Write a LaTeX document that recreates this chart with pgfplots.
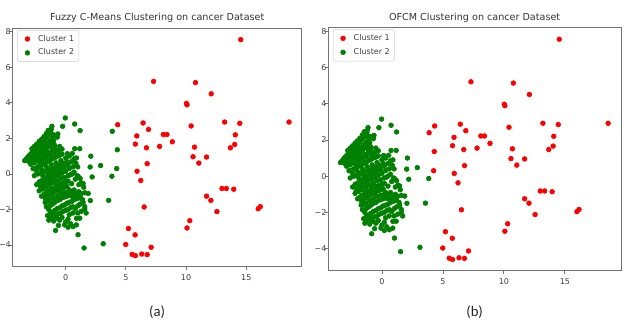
\documentclass[border=0pt]{standalone}
\usepackage{fontspec}
\setmainfont{DejaVu Sans}
\newfontfamily\carlito{Carlito}
\usepackage{pgfplots}
\usepackage{pgfplotstable}
\pgfplotsset{compat=1.18}
\definecolor{mplgreen}{HTML}{008000}
\definecolor{mplred}{HTML}{FF0000}

\pgfplotstableread{
x y
14.54 7.56
7.30 5.21
10.78 5.14
12.09 4.51
10.03 3.97
10.08 3.89
4.32 2.77
6.43 2.87
6.88 2.51
5.91 2.14
5.79 1.68
6.71 1.47
8.11 2.22
8.41 2.22
8.86 1.81
7.80 1.55
6.77 0.58
5.93 0.15
6.24 -0.37
6.52 -1.86
5.21 -3.07
5.77 -3.43
4.99 -3.97
5.52 -4.53
5.79 -4.60
6.32 -4.51
6.77 -4.54
7.10 -4.13
10.42 2.70
10.70 1.51
10.58 0.97
11.06 0.61
11.70 0.95
13.20 2.92
14.46 2.85
14.09 2.20
14.04 1.66
13.68 1.47
18.55 2.92
11.70 -1.25
12.06 -1.49
12.56 -2.12
12.98 -0.82
13.34 -0.82
13.96 -0.86
15.99 -1.96
16.16 -1.84
10.31 -2.63
10.08 -3.04
}\redtab

\pgfplotstableread{
x y
3.87 2.40
4.29 1.36
4.24 0.30
}\switchtab

\pgfplotstableread{
x y
-3.40 0.75
-3.30 0.82
-3.20 0.90
-3.10 0.98
-3.00 1.05
-2.90 1.12
-2.80 1.20
-2.70 1.27
-2.60 1.33
-2.50 1.40
-2.40 1.48
-2.30 1.55
-2.20 1.62
-2.10 1.70
-2.00 1.77
-1.90 1.85
-1.80 1.92
-1.70 2.00
-1.60 2.07
-1.50 2.15
-1.40 2.22
-1.30 2.30
-1.25 2.38
-3.10 0.72
-2.90 0.85
-2.70 0.95
-2.50 1.08
-2.30 1.20
-2.10 1.33
-1.90 1.48
-1.70 1.60
-1.50 1.74
-1.30 1.88
-1.10 2.05
-1.00 2.20
-2.80 1.42
-2.60 1.55
-2.40 1.68
-2.20 1.83
-2.00 1.95
-1.80 2.10
-1.60 2.28
-1.45 2.45
-1.20 2.52
-1.20 1.70
-1.00 1.85
-1.40 1.55
-1.60 1.40
-1.80 1.30
-2.00 1.15
-2.20 1.05
-2.40 0.95
-2.60 0.82
-2.80 0.70
-1.10 1.45
-0.90 1.60
-1.14 2.68
-0.25 2.68
-0.03 3.15
0.75 2.81
1.20 2.44
-0.70 2.07
-0.65 2.25
0.75 1.42
0.14 1.14
-0.50 1.55
-2.90 0.55
-2.60 0.62
-2.30 0.75
-2.00 0.90
-1.70 1.05
-1.40 1.20
-1.10 1.30
-0.80 1.35
-0.60 1.30
-0.30 1.40
-0.85 1.15
-1.25 1.05
-1.55 0.95
-1.85 0.80
-2.15 0.65
-2.70 0.30
-2.50 0.32
-2.30 0.40
-2.10 0.46
-1.90 0.55
-1.70 0.62
-1.50 0.70
-1.30 0.76
-1.10 0.85
-0.90 0.92
-0.70 1.00
-0.50 1.05
-0.30 1.12
-2.40 0.15
-2.00 0.25
-1.60 0.40
-1.20 0.52
-0.80 0.62
-0.40 0.75
0.00 0.90
0.30 1.00
0.50 0.70
0.70 0.85
0.85 0.60
0.20 0.55
-0.10 0.40
0.55 1.15
0.90 0.90
-2.60 -0.10
-2.30 0.00
-2.00 0.05
-1.70 0.15
-1.40 0.25
-1.10 0.30
-0.80 0.40
-0.50 0.50
-0.20 0.60
0.10 0.70
-1.90 -0.10
-1.50 0.05
-1.00 0.20
-2.40 -0.60
-2.20 -0.45
-2.00 -0.38
-1.80 -0.30
-1.60 -0.20
-1.40 -0.10
-1.20 0.00
-1.00 0.05
-0.80 0.15
-0.60 0.22
-0.40 0.30
-0.20 0.35
-2.10 -0.70
-1.90 -0.62
-1.70 -0.52
-1.50 -0.45
-1.30 -0.35
-1.10 -0.25
-0.90 -0.20
-0.70 -0.10
-0.50 0.00
-0.30 0.05
0.00 0.15
0.30 0.30
0.60 0.40
0.95 -0.10
1.03 -0.13
1.10 -0.60
1.30 -0.50
1.45 -0.54
2.20 -0.17
1.00 0.40
0.70 0.10
0.40 -0.05
-2.20 -0.95
-1.90 -0.85
-1.60 -0.75
-1.30 -0.60
-1.00 -0.50
-0.70 -0.40
-0.40 -0.25
-0.10 -0.20
0.20 -0.10
0.50 0.00
0.80 -0.30
1.20 -0.25
-2.00 -1.25
-1.80 -1.15
-1.60 -1.05
-1.40 -0.95
-1.20 -0.85
-1.00 -0.80
-0.80 -0.70
-0.60 -0.60
-0.40 -0.55
-0.20 -0.50
0.00 -0.45
-1.70 -1.35
-1.50 -1.30
-1.30 -1.20
-1.10 -1.10
-0.90 -1.00
-0.70 -0.95
-0.50 -0.85
-0.30 -0.80
-0.10 -0.75
0.10 -0.70
0.30 -0.90
0.50 -1.00
0.70 -0.90
0.90 -1.10
1.10 -1.00
1.30 -1.10
1.60 -1.06
1.50 -0.75
1.87 -1.10
2.05 -1.50
0.20 -0.40
0.50 -0.55
-1.70 -1.60
-1.50 -1.55
-1.30 -1.50
-1.00 -1.35
-0.70 -1.25
-0.40 -1.10
-0.10 -1.05
0.20 -1.00
0.50 -1.25
0.80 -1.20
1.20 -1.25
1.40 -1.45
-1.60 -1.85
-1.40 -2.00
-1.50 -2.35
-1.30 -2.25
-1.10 -2.15
-0.90 -2.05
-0.70 -1.95
-0.50 -1.90
-0.30 -1.80
-0.10 -1.75
0.10 -1.65
0.30 -1.60
0.50 -1.55
0.70 -1.45
0.90 -1.40
1.10 -1.35
-1.30 -1.80
-1.10 -1.70
-0.90 -1.60
-0.70 -1.50
-0.50 -1.45
-0.30 -1.35
-0.10 -1.30
0.10 -1.25
0.30 -1.20
-1.20 -2.50
-1.00 -2.40
-0.80 -2.30
-0.60 -2.25
-0.40 -2.20
-0.20 -2.10
0.00 -2.05
0.20 -2.00
0.40 -1.90
0.60 -1.85
0.80 -1.95
1.00 -1.80
1.20 -1.70
1.30 -2.10
1.59 -1.99
1.59 -1.84
1.00 -2.20
1.70 -2.20
1.45 -1.60
-1.40 -2.60
-1.00 -2.65
-0.70 -2.50
0.30 -2.30
0.60 -2.20
0.90 -2.50
-0.60 -2.90
0.20 -3.00
-0.84 -3.18
-0.08 -2.87
0.00 -2.70
0.61 -2.96
0.40 -2.80
0.89 -2.87
1.17 -2.49
1.03 -3.42
1.53 -4.17
3.12 -3.93
3.57 -1.49
-0.50 -2.60
-0.30 -2.45
0.20 -2.55
2.09 1.00
2.03 0.39
2.90 0.47
1.17 1.42
3.84 -0.13
}\greentab

\pgfplotsset{
  myax/.style={
    scale only axis,
    anchor=south west,
    xmin=-4.4, xmax=19.6, ymin=-5.22, ymax=8.2,
    xtick={0,5,10,15}, xticklabels={0,5,10,15},
    ytick={-4,-2,0,2,4,6,8}, yticklabels={−4,−2,0,2,4,6,8},
    tick align=outside, xtick pos=bottom, ytick pos=left,
    major tick length=2.6pt,
    axis line style={black!55, line width=0.6pt},
    tick style={black!55, line width=0.6pt},
    tick label style={font=\fontsize{6}{7}\selectfont, text=black!75},
    xticklabel style={yshift=0.5pt},
    yticklabel style={inner xsep=0.4pt, xshift=1.8pt},
    every axis title shift=0pt,
    title style={font=\fontsize{7.2}{8.5}\selectfont, text=black!80, at={(0.5,1)}, anchor=center},
    legend style={at={(axis description cs:0,1)}, anchor=north west, xshift=3.4pt, yshift=-1.3pt,
      draw=black!20, rounded corners=1.5pt, font=\fontsize{6}{7}\selectfont, text=black!75,
      inner xsep=1.5pt, inner ysep=1.5pt, row sep=0.4pt},
    legend cell align=left,
    legend image code/.code={\path[draw=none,fill=none] (0pt,0pt) -- (12pt,0pt); \draw[##1] plot[only marks] coordinates {(6pt,0pt)};},
    xlabel style={font=\carlito\fontsize{11}{12}\selectfont, text=black!85, at={(axis description cs:0.5,0)}, anchor=center},
  },
  redpts/.style={only marks, mark=*, mark size=1.8pt, color=mplred, mark options={draw=mplred, fill=mplred}},
  greenpts/.style={only marks, mark=*, mark size=1.8pt, color=mplgreen, mark options={draw=mplgreen, fill=mplgreen}},
}

\begin{document}
\begin{tikzpicture}
\path[use as bounding box] (0,0) rectangle (472.5pt,241.5pt);
\begin{axis}[myax, at={(9.5pt,41.5pt)}, width=216.75pt, height=178.8pt,
  title={Fuzzy C-Means Clustering on cancer Dataset}, title style={yshift=7.5pt},
  xlabel={(a)}, xlabel style={yshift=-34pt}]
\addplot[redpts] table {\redtab};
\addlegendentry{Cluster 1}
\addplot[greenpts] table {\greentab};
\addlegendentry{Cluster 2}
\addplot[greenpts, forget plot] table {\switchtab};
\end{axis}
\begin{axis}[myax, at={(246.2pt,38.5pt)}, width=219.5pt, height=182.25pt,
  title={OFCM Clustering on cancer Dataset}, title style={yshift=7pt},
  xlabel={(b)}, xlabel style={yshift=-30.8pt}]
\addplot[redpts] table {\redtab};
\addlegendentry{Cluster 1}
\addplot[greenpts] table {\greentab};
\addlegendentry{Cluster 2}
\addplot[redpts, forget plot] table {\switchtab};
\end{axis}
\end{tikzpicture}
\end{document}
